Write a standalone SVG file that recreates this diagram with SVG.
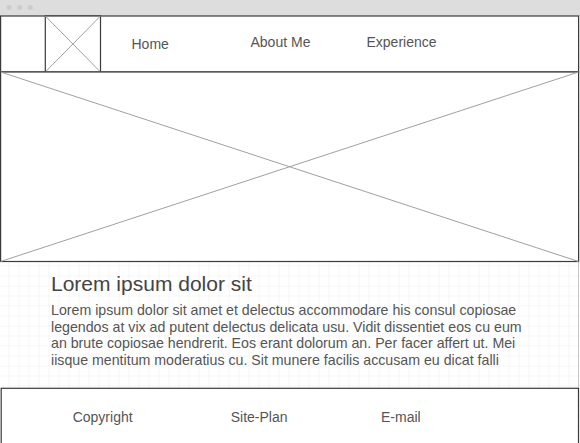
<svg xmlns="http://www.w3.org/2000/svg" width="580" height="443" viewBox="0 0 580 443">
  <defs>
    <pattern id="grid" x="-0.5" y="-3.5" width="10" height="10" patternUnits="userSpaceOnUse">
      <path d="M10 0V10M0 10H10" fill="none" stroke="#ececec" stroke-width="1"/>
    </pattern>
  </defs>
  <style>
    .frame { fill: #ffffff; stroke: #3a3a3a; stroke-width: 1.2; }
    .cross { stroke: #a0a0a0; stroke-width: 1; fill: none; }
    .nav { font-family: "Liberation Sans", Arial, sans-serif; font-size: 14px; fill: #555555; }
    .title { font-family: "Liberation Sans", Arial, sans-serif; font-size: 21px; fill: #444444; }
    .body { font-family: "Liberation Sans", Arial, sans-serif; font-size: 14.2px; fill: #555555; }
    .dot { fill: #cccccc; }
  </style>

  <!-- page background with grid -->
  <rect x="0" y="0" width="580" height="443" fill="#ffffff"/>
  <rect x="0" y="16" width="580" height="427" fill="url(#grid)"/>
  <line x1="578.5" y1="16" x2="578.5" y2="443" stroke="#c8c8c8" stroke-width="1"/>

  <!-- window title bar -->
  <g id="titlebar">
    <rect x="0" y="0" width="580" height="16" fill="#dddddd"/>
    <circle class="dot" cx="9" cy="7.5" r="2.5"/>
    <circle class="dot" cx="19.7" cy="7.5" r="2.5"/>
    <circle class="dot" cx="30.3" cy="7.5" r="2.5"/>
  </g>

  <!-- navigation bar -->
  <g id="navbar">
    <rect class="frame" x="0.6" y="16" width="578" height="56"/>
  </g>
  <g id="logo">
    <rect class="frame" x="45.3" y="16" width="55.2" height="56"/>
    <line class="cross" x1="45.3" y1="16" x2="100.5" y2="72"/>
    <line class="cross" x1="100.5" y1="16" x2="45.3" y2="72"/>
  </g>
  <g id="nav-home"><text class="nav" x="131.5" y="49">Home</text></g>
  <g id="nav-about"><text class="nav" x="250.5" y="47">About Me</text></g>
  <g id="nav-experience"><text class="nav" x="366.5" y="47">Experience</text></g>

  <!-- hero image placeholder -->
  <g id="hero">
    <rect class="frame" x="0.6" y="72" width="578" height="189.5"/>
    <line class="cross" x1="0.6" y1="72" x2="578.6" y2="261.5"/>
    <line class="cross" x1="578.6" y1="72" x2="0.6" y2="261.5"/>
  </g>

  <!-- content -->
  <g id="content">
    <text class="title" x="51" y="291">Lorem ipsum dolor sit</text>
    <text class="body" x="51" y="315">Lorem ipsum dolor sit amet et delectus accommodare his consul copiosae</text>
    <text class="body" x="51" y="331.5">legendos at vix ad putent delectus delicata usu. Vidit dissentiet eos cu eum</text>
    <text class="body" x="51" y="348">an brute copiosae hendrerit. Eos erant dolorum an. Per facer affert ut. Mei</text>
    <text class="body" x="51" y="364.5">iisque mentitum moderatius cu. Sit munere facilis accusam eu dicat falli</text>
  </g>

  <!-- footer -->
  <g id="footer">
    <rect class="frame" x="1.2" y="388.3" width="577.3" height="60"/>
  </g>
  <g id="footer-copyright"><text class="nav" x="72.7" y="421.7">Copyright</text></g>
  <g id="footer-siteplan"><text class="nav" x="230.7" y="421.7">Site-Plan</text></g>
  <g id="footer-email"><text class="nav" x="381" y="421.7">E-mail</text></g>
</svg>
